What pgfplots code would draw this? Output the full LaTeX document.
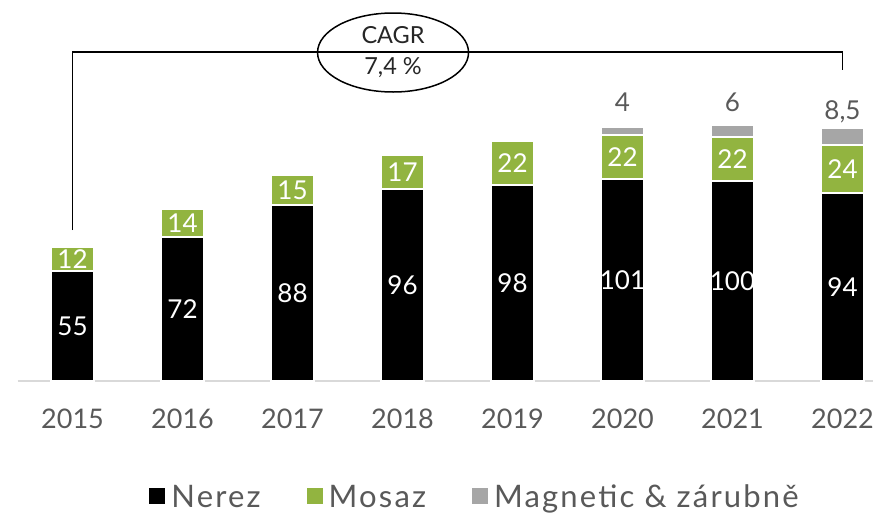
\documentclass[border=0pt]{standalone}
\usepackage{fontspec}
\setmainfont{Lato}
\newfontfamily\legfont[LetterSpace=7]{Lato}
\usepackage{pgfplots}
\usepackage{pgfplotstable}
\usetikzlibrary{shapes.geometric}
\pgfplotsset{compat=1.18}
\definecolor{mosaz}{RGB}{146,180,64}
\definecolor{magn}{RGB}{166,166,166}
\definecolor{txt}{RGB}{89,89,89}
\definecolor{baseln}{RGB}{217,217,217}
\newcommand\tickfont{\fontsize{27}{32}\selectfont}
\newcommand\barfont{\fontsize{26}{30}\selectfont}
\newcommand\cagrfont{\fontsize{23.5}{31}\selectfont}

\pgfplotstableread{
x y lab
0 55 55
1 72 72
2 88 88
3 96 96
4 98 98
5 101 101
6 100 100
7 94 94
}\nerez
\pgfplotstableread{
x y lab
0 12 12
1 14 14
2 15 15
3 17 17
4 22 22
5 22 22
6 22 22
7 24 24
}\mosaz
\pgfplotstableread{
x y lab off
0 0 {} 0
1 0 {} 0
2 0 {} 0
3 0 {} 0
4 0 {} 0
5 4 4 28.5
6 6 6 28.5
7 8.5 8,5 25
}\magn

\begin{document}
\begin{tikzpicture}
\begin{axis}[
  x=110pt, y=2pt, scale only axis,
  xmin=-0.5, xmax=7.28, ymin=0, ymax=190,
  ybar stacked, bar width=43pt,
  axis x line=bottom, axis y line=none,
  x axis line style={draw=baseln, line width=2pt, -},
  xtick={0,1,2,3,4,5,6,7},
  xticklabels={2015,2016,2017,2018,2019,2020,2021,2022},
  major tick length=0pt,
  xticklabel style={font=\tickfont, text=txt, anchor=center, yshift=-38pt},
  clip=false,
  legend image code/.code={\path[#1,draw=none] (0pt,-7pt) rectangle (16pt,9pt);},
  legend style={at={(axis cs:3.66,-58)}, anchor=center, draw=none, fill=none,
    legend columns=3, font=\legfont\fontsize{31}{34}\selectfont, text=txt,
    inner sep=0pt, nodes={inner ysep=0pt},
    /tikz/every odd column/.append style={column sep=4pt},
    /tikz/every even column/.append style={column sep=44pt}},
]
\addplot[fill=black, draw=white, line width=2pt,
  nodes near coords, point meta=explicit symbolic,
  every node near coord/.append style={anchor=center, text=white, font=\barfont}]
  table[x=x, y=y, meta=lab]{\nerez};
\addplot[fill=mosaz, draw=white, line width=2pt,
  nodes near coords, point meta=explicit symbolic,
  every node near coord/.append style={anchor=center, text=white, font=\barfont}]
  table[x=x, y=y, meta=lab]{\mosaz};
\addplot[fill=magn, draw=white, line width=2pt,
  nodes near coords, point meta=explicit symbolic,
  visualization depends on={\thisrow{off} \as \off},
  every node near coord/.append style={anchor=center, yshift={\off*1pt}, text=txt, font=\barfont}]
  table[x=x, y=y, meta=lab]{\magn};
\legend{Nerez, Mosaz, Magnetic \& zárubně}
\draw[line width=1.8pt] (axis cs:0,75.5) -- (axis cs:0,164.5) -- (axis cs:7,164.5) -- (axis cs:7,155.5);
\node[draw=black, ellipse, line width=1.5pt, fill=white, minimum width=151pt, minimum height=79pt,
  inner sep=0pt, align=center, font=\cagrfont, text=black!85] at (axis cs:2.914,164.25) {CAGR\\7,4 \%};
\end{axis}
\pgfresetboundingbox
\path[use as bounding box] (-17.5pt,-134pt) rectangle (856.5pt,381pt);
\end{tikzpicture}
\end{document}
